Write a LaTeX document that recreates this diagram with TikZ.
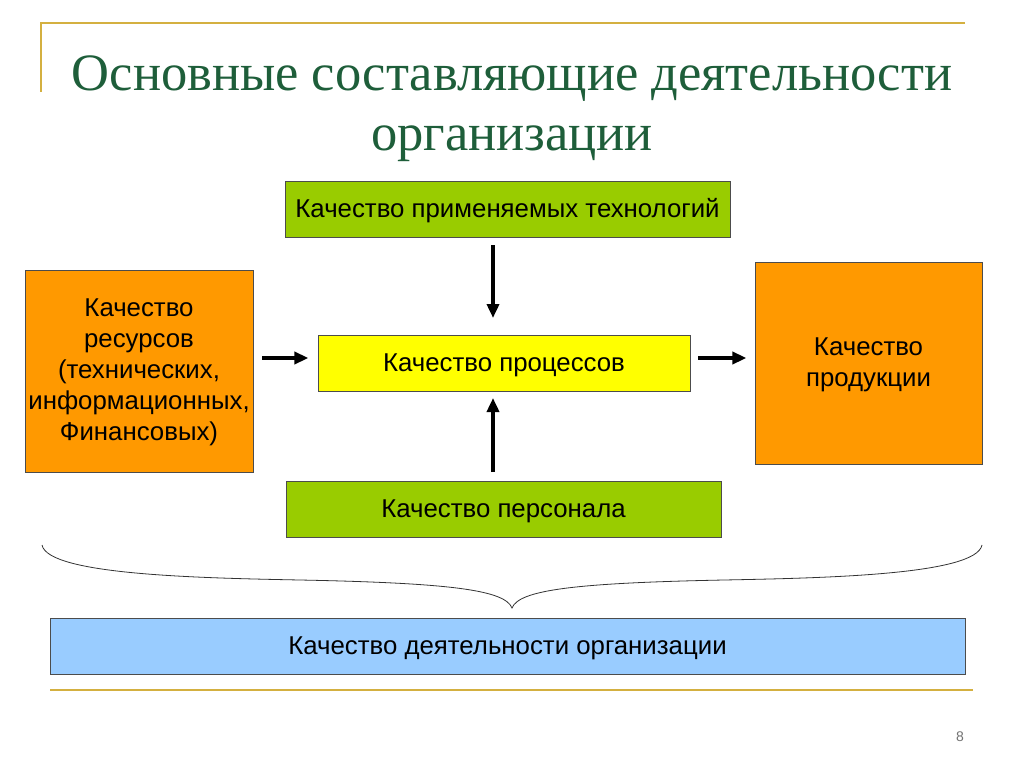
\documentclass[tikz,border=0pt]{standalone}
\usepackage{fontspec}
\setmainfont{Liberation Sans}
\newfontfamily\titlefont{Liberation Serif}
\usetikzlibrary{arrows.meta}
\definecolor{ttlgreen}{HTML}{1E5E3A}
\definecolor{goldline}{HTML}{D4B040}
\definecolor{boxgreen}{HTML}{99CC00}
\definecolor{boxorange}{HTML}{FF9900}
\definecolor{boxyellow}{HTML}{FFFF00}
\definecolor{boxblue}{HTML}{99CCFF}
\tikzset{
  qbox/.style={draw=black!70,line width=0.8pt,minimum height=56pt,inner sep=0pt,
    font=\fontsize{25.8}{31}\selectfont,align=center,text height=23pt,text depth=5.6pt},
  flow/.style={line width=4pt,-{Triangle[length=14pt,width=12pt]}},
}
\begin{document}
\begin{tikzpicture}[x=1pt,y=-1pt]
\useasboundingbox[fill=white] (0,0) rectangle (1024,767);
% frame lines
\draw[goldline,line width=2pt] (41,92) -- (41,23) -- (965,23);
\draw[goldline,line width=2pt] (50,690) -- (973,690);
% title
\node[text=ttlgreen,font=\titlefont\fontsize{52.5}{60}\selectfont,align=center] (title) at (512,109)
  {Основные составляющие деятельности\\организации};
% boxes
\node[qbox,fill=boxgreen,minimum width=445pt] (tech) at (507.5,209) {Качество применяемых технологий};
\node[qbox,fill=boxorange,minimum width=228pt,minimum height=202pt,text height=148pt,text depth=8.6pt] (res) at (139,371)
  {Качество\\ресурсов\\(технических,\\информационных,\\Финансовых)};
\node[qbox,fill=boxyellow,minimum width=372pt] (proc) at (504,363) {Качество процессов};
\node[qbox,fill=boxorange,minimum width=227pt,minimum height=202pt,text height=55pt,text depth=7.6pt] (prod) at (868.5,363)
  {Качество\\продукции};
\node[qbox,fill=boxgreen,minimum width=435pt] (pers) at (503.5,509) {Качество персонала};
\node[qbox,fill=boxblue,minimum width=915pt] (org) at (507.5,646) {Качество деятельности организации};
% arrows
\draw[flow] (res.east) ++(9,-13) -- ++(46,0);
\draw[flow] (proc.east) ++(8,-5) -- ++(48,0);
\draw[flow] (493,245) -- (493,318);
\draw[flow] (493,472) -- (493,398);
% brace
\coordinate (bl) at (42,545);
\coordinate (br) at (982,545);
\coordinate (tip) at (512,608);
\draw[black!80,line width=0.8pt] (bl) .. controls (48,575) and (200,578) .. (300,580)
  .. controls (450,583) and (505,590) .. (tip)
  .. controls (519,590) and (574,583) .. (724,580)
  .. controls (824,578) and (976,575) .. (br);
% page number
\node[text=black!55,font=\fontsize{14}{16}\selectfont] (pg) at (960,737) {8};
\end{tikzpicture}
\end{document}
